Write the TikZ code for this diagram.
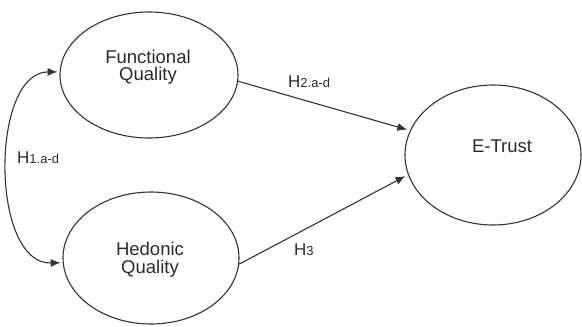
\documentclass[tikz,border=0pt]{standalone}
\usepackage{fontspec}
\setmainfont{Liberation Sans}
\usetikzlibrary{shapes.geometric,arrows.meta}
\definecolor{ink}{HTML}{333333}
\definecolor{txt}{HTML}{2A2A2A}
\tikzset{
  construct/.style={draw=ink, line width=1.1pt, ellipse, inner sep=0pt},
  nodetext/.style={text=txt, anchor=base, inner sep=0pt, font=\fontsize{18.5}{20}\selectfont},
  hyplabel/.style={text=txt, anchor=base west, inner sep=0pt},
  path/.style={draw=ink, line width=1.1pt, -{Latex[length=10pt,width=8pt]}},
}
\newcommand{\hyp}[2]{{\fontsize{17}{19}\selectfont #1}{\fontsize{13}{15}\selectfont #2}}
\begin{document}
\begin{tikzpicture}[x=1pt,y=-1pt]
\useasboundingbox (0,0) rectangle (582,327);
\node[construct, minimum width=178pt, minimum height=126pt] (fq) at (149,75) {};
\node[construct, minimum width=176pt, minimum height=132pt] (hq) at (151,258) {};
\node[construct, minimum width=176pt, minimum height=140pt] (et) at (493,155) {};
\node[nodetext] (fq1) at (148,63) {Functional};
\node[nodetext] (fq2) at (148,80.5) {Quality};
\node[nodetext] (hq1) at (150,255) {Hedonic};
\node[nodetext] (hq2) at (150,273) {Quality};
\node[nodetext] (et1) at (502,152.5) {E-Trust};
\path[path] (fq.-4.5) -- ([shift={(-3,0)}]et.163.6);
\path[path] (hq.-4.5) -- ([shift={(-3,0)}]et.194.3);
\draw[ink, line width=1.1pt, {Latex[length=10pt,width=8pt]}-{Latex[length=10pt,width=8pt]}, shorten <=2pt, shorten >=2pt]
  (fq.178) .. controls (-10,72) and (-10,265) .. (hq.183);
\node[hyplabel] (h1) at (17,163) {\hyp{H}{1.a-d}};
\node[hyplabel] (h2) at (288,87) {\hyp{H}{2.a-d}};
\node[hyplabel] (h3) at (294,255) {\hyp{H}{3}};
\end{tikzpicture}
\end{document}
